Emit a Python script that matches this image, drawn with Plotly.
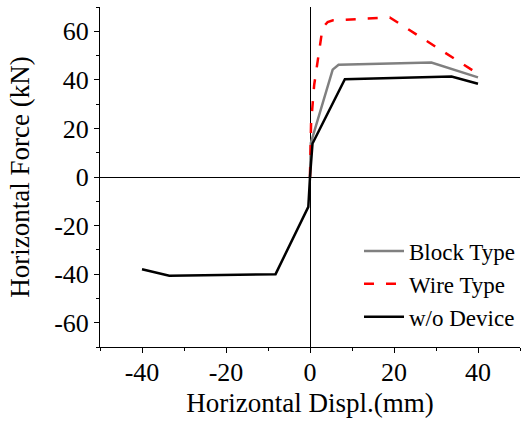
import plotly.graph_objects as go

# Data
block_x = [0.0, 0.2, 5.4, 6.8, 28.9, 40.0]
block_y = [0.0, 14.0, 44.2, 46.2, 47.1, 41.0]

wire_x = [0.0, 0.25, 1.0, 2.2, 3.0, 4.2, 5.5, 19.0, 40.0]
wire_y = [0.0, 22.0, 38.0, 52.5, 61.5, 63.8, 64.5, 65.7, 42.5]

wo_x = [-40.0, -33.5, -8.2, -0.4, 0.0, 0.6, 8.3, 33.7, 40.0]
wo_y = [-38.0, -40.7, -40.0, -12.3, 0.0, 13.8, 40.3, 41.4, 38.4]

series_names = ["Block Type", "Wire Type", "w/o Device"]

x_range = [-50, 50]
y_range = [-70, 70]
x_tickvals = [-40, -20, 0, 20, 40]
x_ticktext = ["-40", "-20", "0", "20", "40"]
y_tickvals = [-60, -40, -20, 0, 20, 40, 60]
y_ticktext = ["-60", "-40", "-20", "0", "20", "40", "60"]

FONT = "Liberation Serif"

fig = go.Figure()
fig.add_trace(go.Scatter(x=block_x, y=block_y, mode="lines", name=series_names[0],
                         line=dict(color="#808080", width=2.5)))
fig.add_trace(go.Scatter(x=wire_x, y=wire_y, mode="lines", name=series_names[1],
                         line=dict(color="#ff0000", width=2.5, dash="10px,12px")))
fig.add_trace(go.Scatter(x=wo_x, y=wo_y, mode="lines", name=series_names[2],
                         line=dict(color="#000000", width=2.5)))

axis_common = dict(
    showgrid=False,
    showline=True, linecolor="black", linewidth=1,
    ticks="outside", ticklen=5, tickwidth=1, tickcolor="black",
    zeroline=True, zerolinecolor="black", zerolinewidth=1,
    tickfont=dict(family=FONT, size=26, color="black"),
    mirror=False,
)

fig.update_layout(
    width=521, height=425,
    margin=dict(l=100, r=1, t=7, b=78),
    paper_bgcolor="white", plot_bgcolor="white",
    font=dict(family=FONT, color="black"),
    xaxis=dict(range=x_range, tickvals=x_tickvals, ticktext=x_ticktext,
               ticklabelstandoff=-3,
               minor=dict(dtick=10, ticks="outside", ticklen=3, tickcolor="black"),
               title=dict(text="Horizontal Displ.(mm)", font=dict(family=FONT, size=27), standoff=6),
               **axis_common),
    yaxis=dict(range=y_range, tickvals=y_tickvals, ticktext=y_ticktext,
               minor=dict(dtick=10, ticks="outside", ticklen=3, tickcolor="black"),
               title=dict(text="Horizontal Force (kN)", font=dict(family=FONT, size=27), standoff=16),
               **axis_common),
    legend=dict(x=1, xanchor="right", y=0.025, yanchor="bottom",
                bgcolor="rgba(0,0,0,0)", font=dict(family=FONT, size=23),
                tracegroupgap=0, itemwidth=40),
    showlegend=True,
)

fig.write_html("out.html")
